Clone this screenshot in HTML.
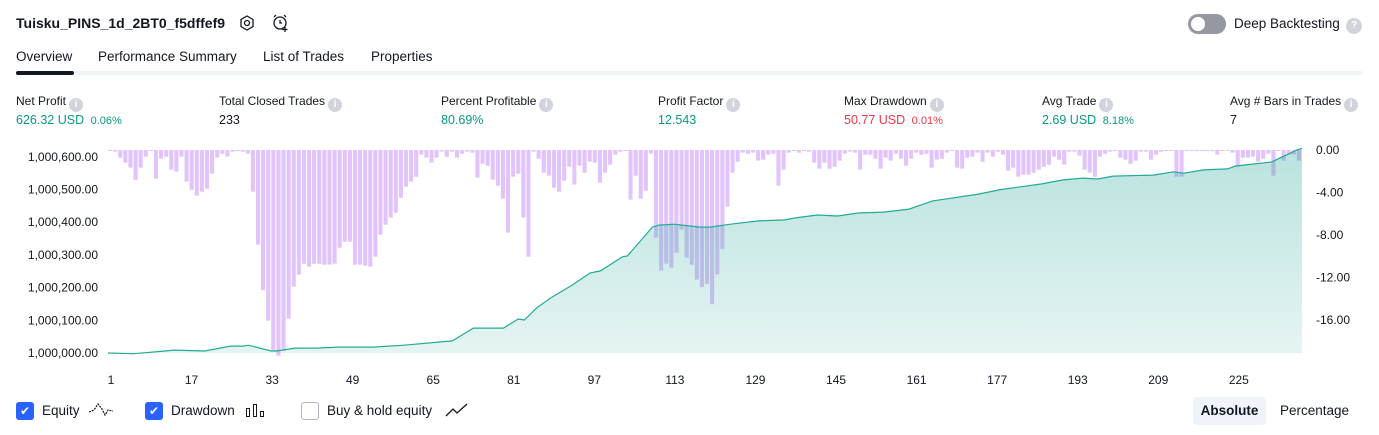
<!DOCTYPE html>
<html><head><meta charset="utf-8">
<style>
*{box-sizing:border-box;margin:0;padding:0}
body{width:1379px;height:435px;background:#fff;font-family:"Liberation Sans",sans-serif;color:#131722;position:relative;overflow:hidden}
.abs{position:absolute;white-space:nowrap}
.lbl{font-size:12px;color:#131722}
.val{font-size:12.5px}
.g{color:#089981}.r{color:#f23645}
.info{display:inline-block;width:14px;height:14px;border-radius:50%;background:#d1d4dc;color:#fff;font-size:10px;text-align:center;line-height:14px;font-weight:bold;vertical-align:-2px;margin-left:3px}
.tab{font-size:13.5px;top:49px}
.cb{width:18px;height:18px;border-radius:3px;background:#2962ff;color:#fff;font-size:12px;text-align:center;line-height:18px;top:402px}
.lg{font-size:13.5px;top:403px}
.ax{font-size:12px;color:#131722}
</style></head><body>
<div class="abs" style="left:16px;top:15px;font-size:14px;font-weight:bold">Tuisku_PINS_1d_2BT0_f5dffef9</div>
<svg class="abs" style="left:238px;top:14px" width="18" height="18" viewBox="0 0 18 18"><polygon points="9,2 15,5.5 15,12.5 9,16 3,12.5 3,5.5" fill="none" stroke="#131722" stroke-width="1.3"/><circle cx="9" cy="9" r="2.5" fill="none" stroke="#131722" stroke-width="1.3"/></svg>
<svg class="abs" style="left:271px;top:13px" width="20" height="20" viewBox="0 0 20 20"><circle cx="9" cy="10" r="6" fill="none" stroke="#131722" stroke-width="1.3"/><path d="M9 7v3h2M3 4l2-2M15 4l-2-2M14 14v5M11.5 16.5h5" fill="none" stroke="#131722" stroke-width="1.3"/></svg>
<div class="abs" style="left:1188px;top:14px;width:38px;height:20px;border-radius:10px;background:#9598a1"><div style="position:absolute;left:3px;top:3px;width:14px;height:14px;border-radius:50%;background:#fff"></div></div>
<div class="abs" style="left:1234px;top:16px;font-size:13.5px">Deep Backtesting</div>
<div class="abs info" style="left:1343px;top:18px;width:16px;height:16px;line-height:16px">?</div>

<div class="abs tab" style="left:16px">Overview</div>
<div class="abs tab" style="left:98px">Performance Summary</div>
<div class="abs tab" style="left:263px">List of Trades</div>
<div class="abs tab" style="left:371px">Properties</div>
<div class="abs" style="left:16px;top:71px;width:1346px;height:4px;background:#f0f3fa"></div>
<div class="abs" style="left:16px;top:71px;width:58px;height:4px;border-radius:2px;background:#131722"></div>

<div class="abs lbl" style="left:16px;top:94px">Net Profit<span class="info">i</span></div>
<div class="abs val g" style="left:16px;top:113px">626.32 USD <span style="font-size:11px">&nbsp;0.06%</span></div>
<div class="abs lbl" style="left:219px;top:94px">Total Closed Trades<span class="info">i</span></div>
<div class="abs val" style="left:219px;top:113px">233</div>
<div class="abs lbl" style="left:441px;top:94px">Percent Profitable<span class="info">i</span></div>
<div class="abs val g" style="left:441px;top:113px">80.69%</div>
<div class="abs lbl" style="left:658px;top:94px">Profit Factor<span class="info">i</span></div>
<div class="abs val g" style="left:658px;top:113px">12.543</div>
<div class="abs lbl" style="left:844px;top:94px">Max Drawdown<span class="info">i</span></div>
<div class="abs val r" style="left:844px;top:113px">50.77 USD <span style="font-size:11px">&nbsp;0.01%</span></div>
<div class="abs lbl" style="left:1042px;top:94px">Avg Trade<span class="info">i</span></div>
<div class="abs val g" style="left:1042px;top:113px">2.69 USD <span style="font-size:11px">&nbsp;8.18%</span></div>
<div class="abs lbl" style="left:1230px;top:94px">Avg # Bars in Trades<span class="info">i</span></div>
<div class="abs val" style="left:1230px;top:113px">7</div>

<svg class="abs" id="chart" style="left:0;top:140px" width="1379" height="250"></svg>

<div class="abs cb" style="left:16px">✔</div>
<div class="abs lg" style="left:42px">Equity</div>
<svg class="abs" style="left:88px;top:401px" width="26" height="18"><path d="M1 11l5-2 4-6 4 5 3 6 3-5 5 1" fill="none" stroke="#131722" stroke-width="1.2" stroke-dasharray="2 1"/></svg>
<div class="abs cb" style="left:145px">✔</div>
<div class="abs lg" style="left:171px">Drawdown</div>
<svg class="abs" style="left:245px;top:402px" width="22" height="16"><rect x="1.5" y="6.5" width="3" height="8" fill="none" stroke="#131722"/><rect x="8.5" y="2.5" width="3" height="12" fill="none" stroke="#131722"/><rect x="15.5" y="9.5" width="3" height="5" fill="none" stroke="#131722"/></svg>
<div class="abs" style="left:301px;top:402px;width:18px;height:18px;border-radius:3px;border:1px solid #b2b5be"></div>
<div class="abs lg" style="left:327px">Buy &amp; hold equity</div>
<svg class="abs" style="left:445px;top:402px" width="24" height="16"><path d="M1 14l7-7 4 4 10-9" fill="none" stroke="#131722" stroke-width="1.3"/></svg>
<div class="abs" style="left:1193px;top:397px;width:73px;height:28px;background:#f0f3fa;border-radius:4px;font-size:13.5px;font-weight:bold;text-align:center;line-height:28px">Absolute</div>
<div class="abs" style="left:1272px;top:397px;width:85px;height:28px;font-size:13.5px;text-align:center;line-height:28px">Percentage</div>

<script>
const drawdown = [-0.07,-0.16,-0.72,-1.2,-1.66,-2.8,-1.66,-0.63,-0.07,-2.7,-0.82,-0.63,-1.85,-2.04,-0.63,-2.98,-3.73,-4.3,-3.92,-3.64,-2.23,-0.72,-0.35,-0.63,-0.16,-0.07,-0.16,-0.35,-3.92,-8.9,-13.2,-16.06,-18.9,-19.35,-18.9,-15.87,-12.86,-11.73,-10.7,-10.98,-10.7,-10.7,-10.79,-10.79,-10.7,-9.19,-8.63,-8.63,-10.79,-10.79,-10.88,-10.98,-10.04,-7.97,-7.03,-6.37,-5.9,-4.49,-3.45,
-2.98,-2.51,-0.44,-0.72,-1.19,-0.72,-0.16,-0.63,-0.16,-0.72,-0.35,-0.16,-0.25,-2.6,-1.29,-1.48,-2.79,-3.36,-4.58,-7.78,-2.51,-2.23,-6.37,-10.04,-0.16,-0.82,-2.14,-2.42,-3.55,-3.92,-2.89,-1.57,-3.26,-1.48,-2.14,-1.1,-1.19,-3.08,-2.14,-1.38,-0.44,-0.16,-0.07,-4.68,-2.42,-4.58,-3.83,-0.35,-8.25,-11.35,-10.7,-11.07,-9.66,-7.5,-10.13,-10.79,-12.2,
-12.9,-12.6,-14.5,-11.7,-9.3,-5.33,-2.14,-1.1,-0.25,-0.35,-0.25,-1.0,-0.91,-0.44,-0.35,-3.36,-1.85,-0.25,-0.07,-0.25,-0.07,-0.16,-1.19,-1.76,-1.19,-1.76,-1.57,-1.0,-0.35,-0.16,-0.25,-1.85,-0.44,-0.44,-0.82,-1.76,-0.72,-1.0,-0.35,-0.82,-1.48,-0.82,-0.25,-0.44,-0.35,-1.66,-0.91,-0.82,-0.25,-0.07,-1.66,-1.76,-0.72,-0.63,-0.25,-1.1,-0.25,-0.63,-0.16,
-0.44,-1.95,-1.66,-2.51,-2.32,-2.32,-2.14,-1.85,-1.57,-1.38,-0.63,-0.91,-1.38,-0.16,-0.16,-0.53,-1.85,-2.14,-2.51,-0.63,-0.35,-0.16,-0.07,-0.72,-0.91,-1.29,-1.0,-0.16,-0.16,-0.91,-0.44,-0.16,-0.07,-0.07,-2.51,-2.51,-0.07,-0.07,-0.07,-0.07,-0.07,-0.07,-0.44,-0.07,-0.07,-0.25,-1.57,-0.72,-0.72,-0.63,-1.1,-0.82,-0.35,-2.42,-0.07,-1.0,-0.44,-0.44,-1.0];
const equityTrade = [0,5,9,13,19,24,26.5,27.5,32,33,36.7,41,45,52,58,67.5,71.6,77.5,80.4,81.6,84,86.7,91,94.5,96.5,100.8,101.8,106.7,108,111,112.5,116,118,122,127.5,132.7,134.7,139,143,147,152,157,161.6,170.6,175,183,187,191,194,197,204.9,208.8,210.8,214.7,219.4,221,224.5,228,231,233,234];
const equityValue = [0,-2,3,9,6,21,21,24,6,6,15,15,18,18,24,37,76,76,104,101,138,168,208,245,251,294,297,385,391,394,391,385,385,394,404,407,413,422,419,428,431,440,465,486,500,517,529,535,532,541,544,554,550,560,563,572,578,584,606,621,626];
const leftTicks = [0,100,200,300,400,500,600];
const rightTicks = [0,-4,-8,-12,-16];
const xTicks = [1,17,33,49,65,81,97,113,129,145,161,177,193,209,225];

const svg = document.getElementById('chart');
const NS = 'http://www.w3.org/2000/svg';
const X0 = 108, X1 = 1302, OY = 140;
const pitch = (X1 - X0) / drawdown.length;
const xBar = i => X0 + i * pitch;
const xEq = t => X0 + t * (X1 - X0) / drawdown.length;
const yEq = v => 353 - OY - v * 0.327;
const yDD = v => 150 - OY - v * 10.63;
const xTick = k => 111 + (k - 1) * 5.035;

function mk(tag, attrs) { const e = document.createElementNS(NS, tag); for (const k in attrs) e.setAttribute(k, attrs[k]); svg.appendChild(e); return e; }

const defs = mk('defs', {});
defs.innerHTML = '<linearGradient id="gr" x1="0" y1="0" x2="0" y2="1"><stop offset="0" stop-color="#26a69a" stop-opacity="0.32"/><stop offset="1" stop-color="#26a69a" stop-opacity="0.12"/></linearGradient>';

drawdown.forEach((v, i) => {
  const b = mk('rect', {x: xBar(i), y: yDD(0), width: pitch - 1, height: Math.max(1, yDD(v) - yDD(0)), fill: '#e1c4fb'});
  
  
});

let pts = equityTrade.map((t, i) => xEq(t).toFixed(1) + ',' + yEq(equityValue[i]).toFixed(1));
const area = mk('polygon', {points: pts.join(' ') + ' ' + xEq(equityTrade[equityTrade.length-1]) + ',' + yEq(0) + ' ' + X0 + ',' + yEq(0), fill: 'url(#gr)'});


const line = mk('polyline', {points: pts.join(' '), fill: 'none', stroke: '#22ab94', 'stroke-width': 1.2});



leftTicks.forEach(v => {
  const t = mk('text', {x: 98, y: yEq(v) + 4, 'text-anchor': 'end', class: 'ax', fill: '#131722'});
  t.textContent = (1000000 + v).toLocaleString('en-US', {minimumFractionDigits: 2});
  
  
});
rightTicks.forEach(v => {
  const t = mk('text', {x: 1316, y: yDD(v) + 4, class: 'ax', fill: '#131722'});
  t.textContent = v.toFixed(2);
  
  
});
xTicks.forEach(k => {
  const t = mk('text', {x: xTick(k), y: 244, 'text-anchor': 'middle', class: 'ax', fill: '#131722'});
  t.textContent = k;
  
  
});
</script>
</body></html>
